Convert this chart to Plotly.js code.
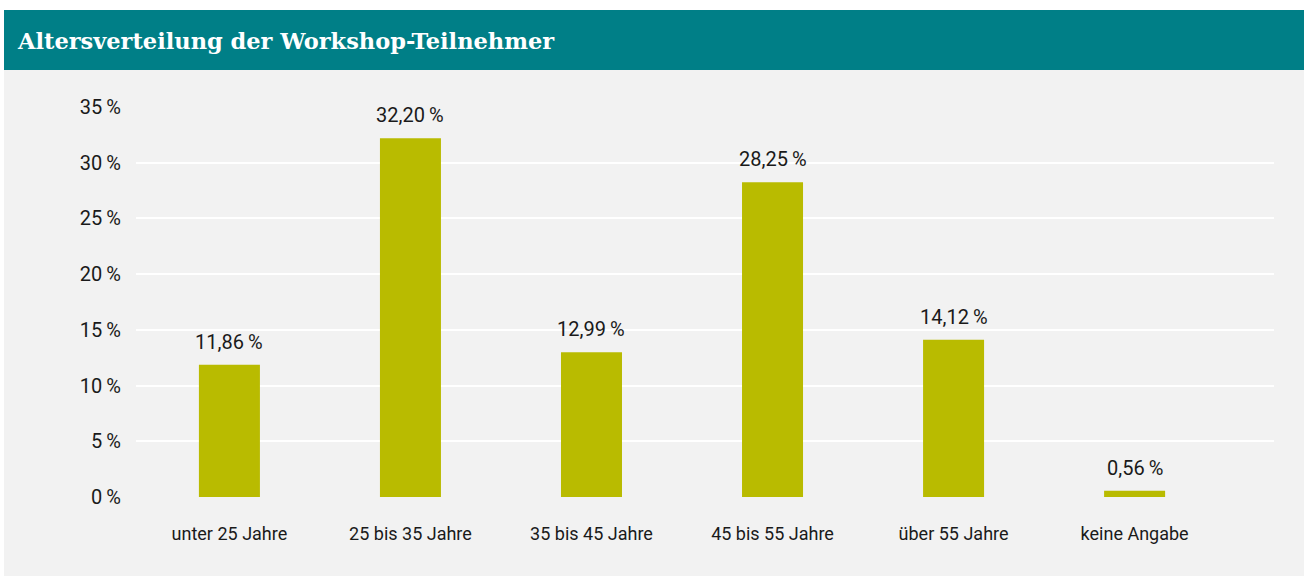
<!DOCTYPE html>
<html>
<head>
<meta charset="utf-8">
<script src="https://cdn.plot.ly/plotly-3.0.1.min.js"></script>
<style>html,body{margin:0;padding:0;background:#fff;}#chart{width:1304px;height:576px;}</style>
</head>
<body>
<div id="chart"></div>
<script>
const categories = ["unter 25 Jahre", "25 bis 35 Jahre", "35 bis 45 Jahre", "45 bis 55 Jahre", "über 55 Jahre", "keine Angabe"];
const values = [11.86, 32.20, 12.99, 28.25, 14.12, 0.56];
const yTickVals = [0, 5, 10, 15, 20, 25, 30, 35];
const yTickText = yTickVals.map(v => v + "\u2009%");
const titleText = "Altersverteilung der Workshop-Teilnehmer";

const fmt = v => v.toFixed(2).replace(".", ",") + "\u2009%";

const W = 1304, H = 576;
const L = 136, R = 30, T = 107, B = 79;
const pw = W - L - R, ph = H - T - B;
const px = x => (x - L) / pw;
const py = y => (H - B - y) / ph;

const trace = {
  type: "bar",
  x: categories,
  y: values,
  marker: {color: "#b9bb00"},
  width: 0.337,
  hoverinfo: "skip"
};

const annotations = categories.map((c, i) => ({
  x: c, y: values[i], xref: "x", yref: "y",
  text: fmt(values[i]), showarrow: false,
  yanchor: "bottom", yshift: 9,
  font: {family: "Roboto, sans-serif", size: 20, color: "#1a1a1a"}
}));

const layout = {
  width: W, height: H,
  margin: {l: L, r: R, t: T, b: B, pad: 0},
  paper_bgcolor: "#ffffff",
  plot_bgcolor: "rgba(0,0,0,0)",
  showlegend: false,
  title: {
    text: "<b>" + titleText + "</b>",
    x: 18 / W, xanchor: "left", xref: "container",
    y: 1 - 41 / H, yanchor: "middle", yref: "container",
    font: {family: "DejaVu Serif, serif", size: 22.5, color: "#ffffff"}
  },
  shapes: [
    {type: "rect", xref: "paper", yref: "paper", layer: "below",
     x0: px(4), x1: px(1304), y0: py(70), y1: py(576),
     fillcolor: "#f2f2f2", line: {width: 0}},
    {type: "rect", xref: "paper", yref: "paper", layer: "below",
     x0: px(4), x1: px(1304), y0: py(10), y1: py(70),
     fillcolor: "#007f87", line: {width: 0}}
  ],
  xaxis: {
    type: "category",
    range: [-0.516, 5.77],
    showgrid: false, zeroline: false, showline: false,
    ticks: "", ticklabelstandoff: 24,
    tickfont: {family: "Roboto, sans-serif", size: 18, color: "#1a1a1a"},
    fixedrange: true
  },
  yaxis: {
    range: [0, 35],
    tickvals: yTickVals, ticktext: yTickText,
    showgrid: true, gridcolor: "#ffffff", gridwidth: 2,
    zeroline: false, showline: false, ticks: "",
    ticklabelstandoff: 14,
    tickfont: {family: "Roboto, sans-serif", size: 20, color: "#1a1a1a"},
    fixedrange: true
  },
  annotations: annotations,
  font: {family: "Roboto, sans-serif"}
};

Plotly.newPlot("chart", [trace], layout, {displayModeBar: false, staticPlot: true});
</script>
</body>
</html>
